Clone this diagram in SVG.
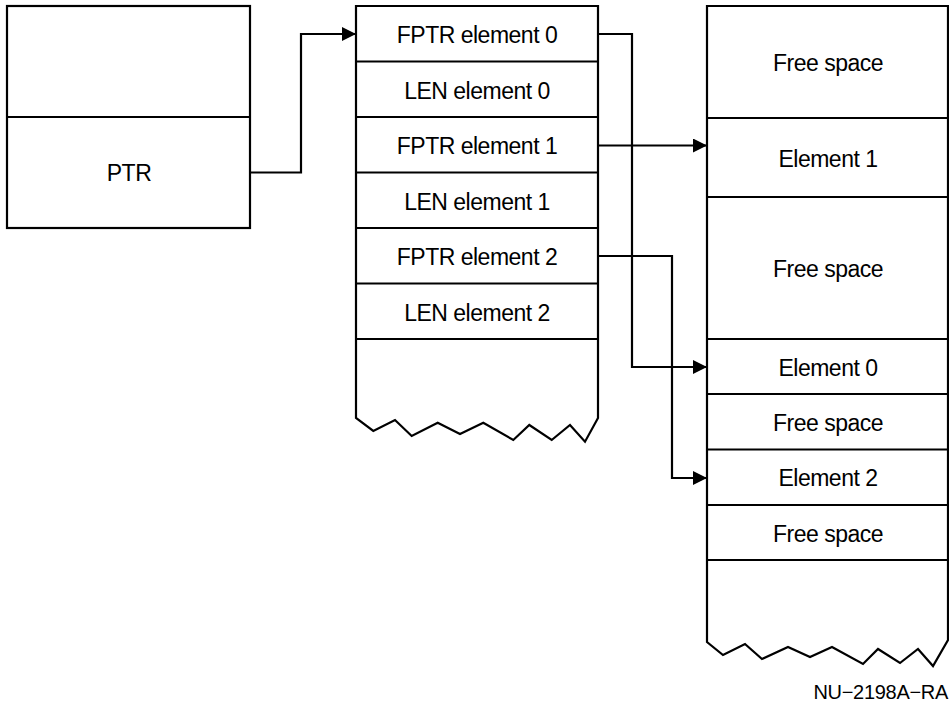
<svg xmlns="http://www.w3.org/2000/svg" width="949" height="704" viewBox="0 0 949 704">
<style>
.box{fill:#fff;stroke:#000;stroke-width:2.2;stroke-linejoin:miter}
.div{stroke:#000;stroke-width:2.2;fill:none}
.lbl{font-family:"Liberation Sans",Arial,sans-serif;font-size:23px;letter-spacing:-0.5px;fill:#000;text-anchor:middle}
.conn{stroke:#000;stroke-width:2.2;fill:none}
.tag{font-family:"Liberation Sans",Arial,sans-serif;font-size:20px;letter-spacing:-0.3px;fill:#000;text-anchor:end}
</style>
<defs>
<marker id="arr" markerUnits="userSpaceOnUse" markerWidth="15" markerHeight="14" refX="14" refY="7" orient="auto">
<path d="M0,0 L14,7 L0,14 z" fill="#000"/>
</marker>
</defs>
<rect width="949" height="704" fill="#fff"/>

<g id="left-block">
<rect class="box" x="7" y="6" width="243" height="222"/>
<line class="div" x1="7" y1="117" x2="250" y2="117"/>
<g id="ptr"><text class="lbl" x="129" y="181">PTR</text></g>
</g>

<g id="middle-block">
<path class="box" d="M356,418 V6 H598 V418 L585,441.7 L570,425 L551.7,440 L529.3,425 L513.3,440 L483.3,422.7 L460,434 L437.7,422.7 L411.7,436 L395,420 L373.3,431 Z"/>
<g class="div">
<line x1="356" y1="61.5" x2="598" y2="61.5"/>
<line x1="356" y1="117" x2="598" y2="117"/>
<line x1="356" y1="172.5" x2="598" y2="172.5"/>
<line x1="356" y1="228" x2="598" y2="228"/>
<line x1="356" y1="283.5" x2="598" y2="283.5"/>
<line x1="356" y1="339" x2="598" y2="339"/>
</g>
<g id="fptr0"><text class="lbl" x="477" y="43">FPTR element 0</text></g>
<g id="len0"><text class="lbl" x="477" y="98.5">LEN element 0</text></g>
<g id="fptr1"><text class="lbl" x="477" y="154">FPTR element 1</text></g>
<g id="len1"><text class="lbl" x="477" y="209.5">LEN element 1</text></g>
<g id="fptr2"><text class="lbl" x="477" y="265">FPTR element 2</text></g>
<g id="len2"><text class="lbl" x="477" y="320.5">LEN element 2</text></g>
</g>

<g id="right-block">
<path class="box" d="M707,642 V6 H948 V640 L933,666 L918,649 L900,663 L878,649 L863,664 L832,647 L810,657 L788,647 L762,659 L745,644 L723,655 Z"/>
<g class="div">
<line x1="707" y1="118" x2="948" y2="118"/>
<line x1="707" y1="197" x2="948" y2="197"/>
<line x1="707" y1="339" x2="948" y2="339"/>
<line x1="707" y1="394" x2="948" y2="394"/>
<line x1="707" y1="449.5" x2="948" y2="449.5"/>
<line x1="707" y1="505" x2="948" y2="505"/>
<line x1="707" y1="560" x2="948" y2="560"/>
</g>
<g id="free-a"><text class="lbl" x="828" y="71">Free space</text></g>
<g id="element1"><text class="lbl" x="828" y="167">Element 1</text></g>
<g id="free-b"><text class="lbl" x="828" y="277">Free space</text></g>
<g id="element0"><text class="lbl" x="828" y="375.5">Element 0</text></g>
<g id="free-c"><text class="lbl" x="828" y="430.5">Free space</text></g>
<g id="element2"><text class="lbl" x="828" y="486">Element 2</text></g>
<g id="free-d"><text class="lbl" x="828" y="541.5">Free space</text></g>
</g>

<g id="connectors">
<path class="conn" d="M250,172.5 H301 V34 H356" marker-end="url(#arr)"/>
<path class="conn" d="M598,34 H632 V367 H707" marker-end="url(#arr)"/>
<path class="conn" d="M598,145.5 H707" marker-end="url(#arr)"/>
<path class="conn" d="M598,256 H672 V478 H707" marker-end="url(#arr)"/>
</g>

<text class="tag" x="948" y="699">NU−2198A−RA</text>
</svg>
